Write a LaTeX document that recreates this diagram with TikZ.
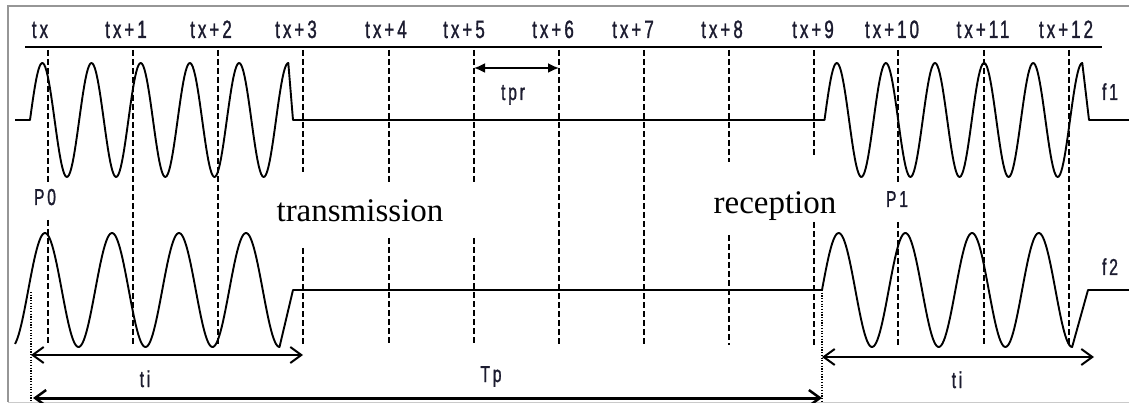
\documentclass[tikz,border=0pt]{standalone}
\usepackage{fontspec}
\setmainfont{Liberation Serif}
\newfontfamily\labfont[FakeStretch=0.68,LetterSpace=12,FakeBold=1.2]{Liberation Sans}
\usetikzlibrary{arrows.meta}
\definecolor{labcol}{RGB}{28,28,48}
\definecolor{framecol}{RGB}{150,150,150}
\tikzset{
  wave/.style={line width=1.9pt, line join=round},
  dthin/.style={line width=1.3pt, dash pattern=on 6pt off 3pt},
  dthick/.style={line width=2.3pt, dash pattern=on 6pt off 3pt},
  dotv/.style={line width=1.2pt, dash pattern=on 1.2pt off 1.5pt},
  tick/.style={font=\labfont\fontsize{25}{25}\selectfont, text=labcol, anchor=base, inner sep=0pt},
  lab/.style={font=\labfont\fontsize{23}{23}\selectfont, text=labcol, anchor=base, inner sep=0pt},
  big/.style={font=\fontsize{33}{33}\selectfont, anchor=base, inner sep=0pt},
  dimarrow/.style={line width=2pt, {Straight Barb[length=11pt,width=16pt,line width=2pt]}-{Straight Barb[length=11pt,width=16pt,line width=2pt]}},
}
\begin{document}
\begin{tikzpicture}[x=1pt,y=-1pt]
\useasboundingbox (0,0) rectangle (1129,403);
% frame
\coordinate (fTL) at (8,6); \coordinate (fTR) at (1129,6);
\coordinate (fBL) at (8,402); \coordinate (fBR) at (1129,402);
\draw[framecol, line width=2pt] (fTR) -- (fTL) -- (fBL);
\draw[framecol!50, line width=1pt] (fBL) -- (fBR);
% time axis
\coordinate (axL) at (25,47); \coordinate (axR) at (1102,47);
\draw[line width=2pt] (axL) -- (axR);
% tick labels
\node[tick] (t0) at (40,38) {tx};
\node[tick] (t1) at (126,38) {tx+1};
\node[tick] (t2) at (211,38) {tx+2};
\node[tick] (t3) at (296,38) {tx+3};
\node[tick] (t4) at (386,38) {tx+4};
\node[tick] (t5) at (464,38) {tx+5};
\node[tick] (t6) at (553,38) {tx+6};
\node[tick] (t7) at (633,38) {tx+7};
\node[tick] (t8) at (722,38) {tx+8};
\node[tick] (t9) at (813,38) {tx+9};
\node[tick] (t10) at (892,38) {tx+10};
\node[tick] (t11) at (983,38) {tx+11};
\node[tick] (t12) at (1066,38) {tx+12};
% dashed vertical lines
\draw[dthin] (48,50) -- (48,182);
\draw[dthin] (48,220) -- (48,345);
\draw[dthin] (133,50) -- (133,345);
\draw[dthick] (218,50) -- (218,345);
\draw[dthick] (303,50) -- (303,172);
\draw[dthick] (303,248) -- (303,345);
\draw[dthick] (389,50) -- (389,182);
\draw[dthick] (389,238) -- (389,345);
\draw[dthin] (474,50) -- (474,182);
\draw[dthin] (474,238) -- (474,345);
\draw[dthin] (559,50) -- (559,345);
\draw[dthin] (644,50) -- (644,345);
\draw[dthick] (729,50) -- (729,162);
\draw[dthick] (729,235) -- (729,345);
\draw[dthin] (814,50) -- (814,157);
\draw[dthin] (814,222) -- (814,345);
\draw[dthin] (898,50) -- (898,183);
\draw[dthin] (898,222) -- (898,345);
\draw[dthin] (984,50) -- (984,345);
\draw[dthick] (1069,50) -- (1069,345);
% f1 waveform
\draw[wave] (15,120) -- (30,120)
  -- plot[domain=0:1890, samples=220] ({30+\x/7.3171}, {120-57*sin(\x)})
  -- (293,120) -- (824.5,120)
  -- plot[domain=0:1890, samples=220] ({824.5+\x/7.3320}, {120-57*sin(\x)})
  -- (1089,120) -- (1129,120);
% f2 waveform
\draw[wave] plot[domain=-161:1260, samples=220] ({45+\x/5.3731}, {290-57*cos(\x)})
  -- (293,290) -- (822,290)
  -- plot[domain=0:1350, samples=200] ({822+\x/5.3973}, {290-57*sin(\x)})
  -- (1088,290) -- (1129,290);
% labels f1 f2
\node[lab] (f1) at (1110,100) {f1};
\node[lab] (f2) at (1110,275) {f2};
% P labels
\node[lab] (p0) at (45,205) {P0};
\node[lab] (p1) at (897,207) {P1};
% big texts
\node[big] (trans) at (360,222) {transmission};
\node[big] (recep) at (775,214) {reception};
% tpr arrow
\coordinate (tprA) at (474,68); \coordinate (tprB) at (559,68);
\draw[line width=1.8pt, {Latex[length=11pt,width=10pt]}-{Latex[length=11pt,width=10pt]}] (tprA) -- (tprB);
\node[lab] (tpr) at (513,100) {tpr};
% dotted verticals
\coordinate (dl1) at (31,292); \coordinate (dl2) at (31,403);
\coordinate (dr1) at (822,290); \coordinate (dr2) at (822,403);
\draw[dotv] (dl1) -- (dl2);
\draw[dotv] (dr1) -- (dr2);
% ti arrows
\coordinate (tiLa) at (31,355); \coordinate (tiLb) at (303,355);
\draw[dimarrow] (tiLa) -- (tiLb);
\node[lab] (ti1) at (145,387) {ti};
\coordinate (tiRa) at (822,357); \coordinate (tiRb) at (1094,357);
\draw[dimarrow] (tiRa) -- (tiRb);
\node[lab] (ti2) at (957,388) {ti};
% Tp arrow
\coordinate (tpa) at (33,398); \coordinate (tpb) at (822,398);
\draw[line width=3pt, {Straight Barb[length=11pt,width=16pt,line width=2.5pt]}-{Straight Barb[length=11pt,width=16pt,line width=2.5pt]}] (tpa) -- (tpb);
\node[lab] (Tp) at (491,382) {Tp};
\end{tikzpicture}
\end{document}
